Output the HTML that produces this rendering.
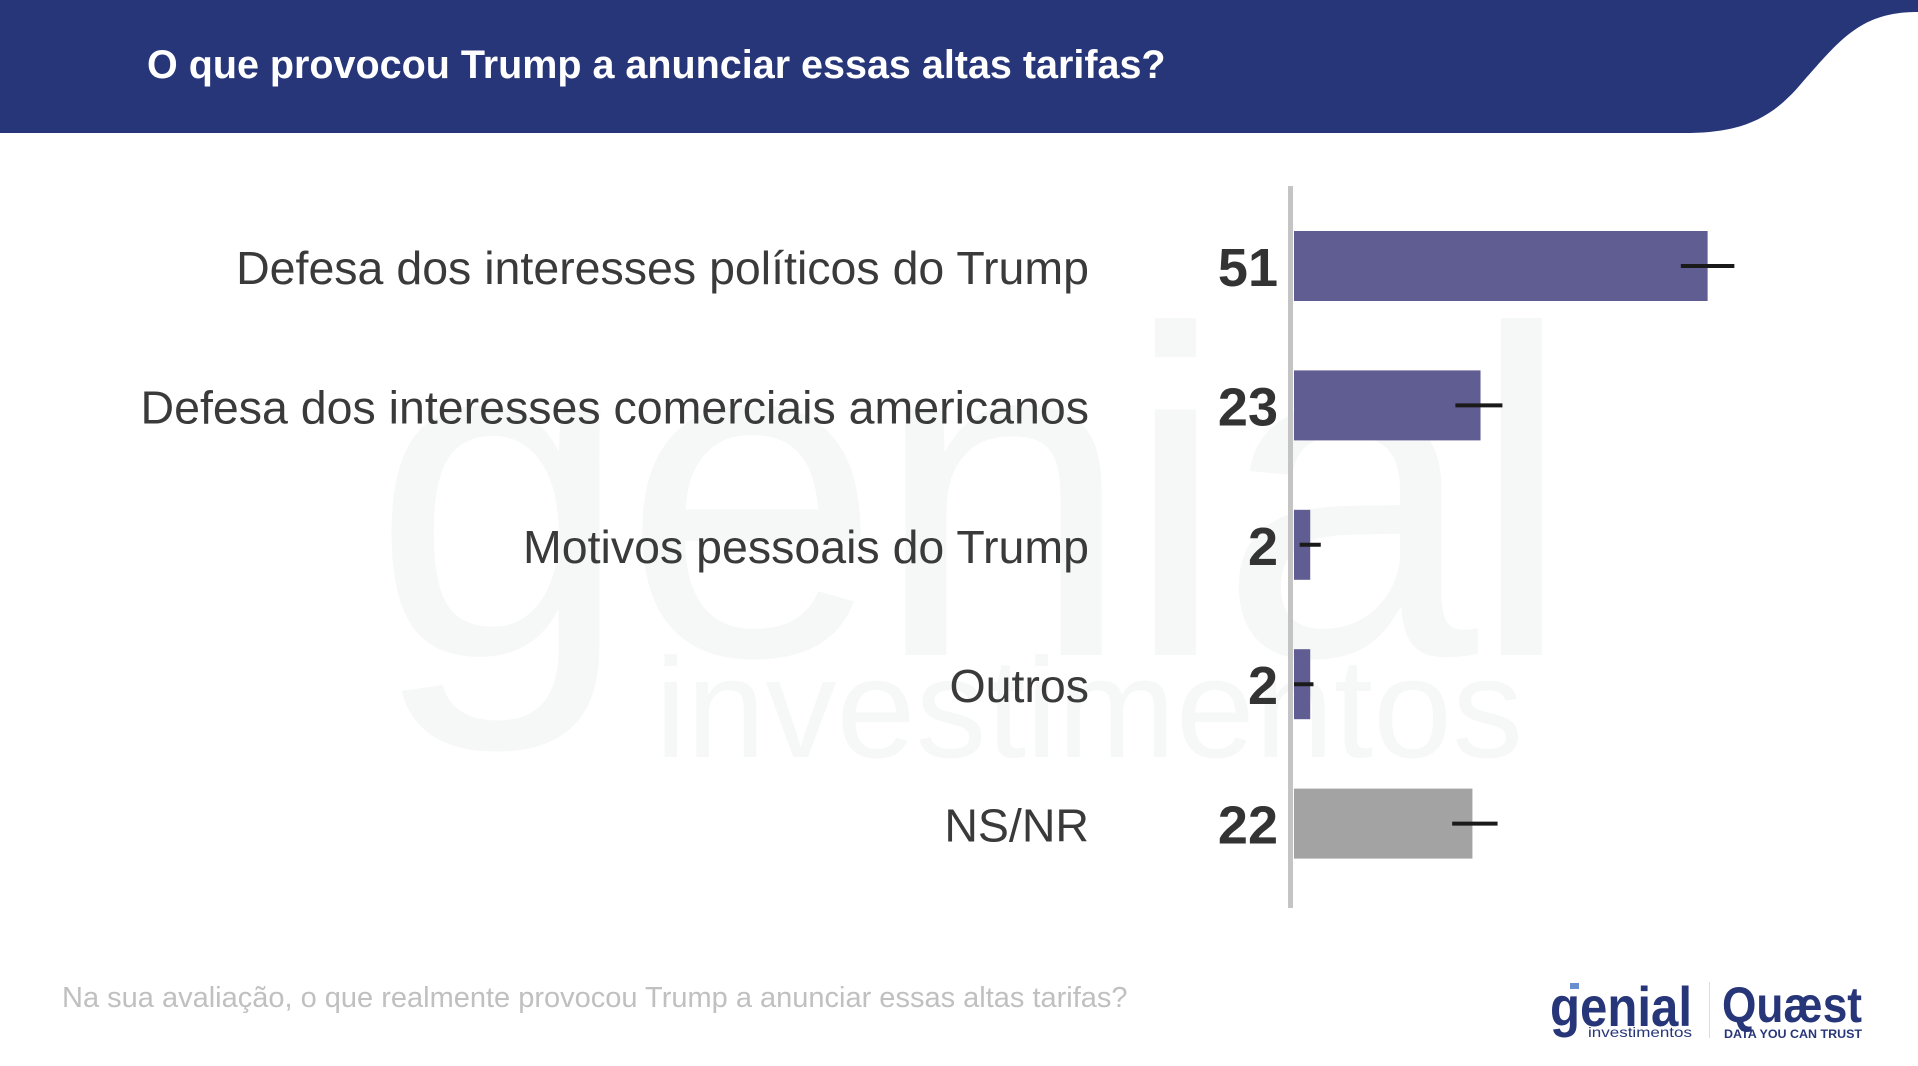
<!DOCTYPE html>
<html><head><meta charset="utf-8">
<style>
body{margin:0;width:1918px;height:1066px;overflow:hidden;background:#fff;font-family:"Liberation Sans",sans-serif;position:relative}
.wm{position:absolute;color:#f6f7f7;font-family:"Liberation Sans",sans-serif;white-space:nowrap}
</style></head><body>
<div class="wm" style="left:372px;top:262px;font-size:465px;letter-spacing:-8px;line-height:1">genial</div>
<div class="wm" style="left:655px;top:638px;font-size:142px;line-height:1">investimentos</div>
<svg width="1918" height="1066" style="position:absolute;left:0;top:0">
<path d="M0 0 H1918 V12 C1860 12 1840 40 1800 85 C1770 120 1740 132 1690 133 H0 Z" fill="#273579"/>
<text x="147" y="78" fill="#fff" font-size="39.5" font-weight="bold" font-family="Liberation Sans">O que provocou Trump a anunciar essas altas tarifas?</text>
<g id="bars"></g>
<text x="62" y="1007" fill="#c0c0c0" font-size="29" font-family="Liberation Sans">Na sua avaliação, o que realmente provocou Trump a anunciar essas altas tarifas?</text>
<g>
<text x="1550" y="1026" fill="#273579" font-size="56" font-weight="bold" font-family="Liberation Sans" textLength="142" lengthAdjust="spacingAndGlyphs">genial</text>
<rect x="1570" y="983" width="9" height="6" fill="#6a8fd0"/>
<text x="1588" y="1037" fill="#273579" font-size="14" font-family="Liberation Sans" textLength="104" lengthAdjust="spacingAndGlyphs">investimentos</text>
</g>
<rect x="1709" y="982" width="1" height="56" fill="#ddd"/>
<g>
<text x="1722" y="1022" fill="#273579" font-size="50" font-weight="bold" font-family="Liberation Sans" textLength="140" lengthAdjust="spacingAndGlyphs">Quæst</text>
<text x="1724" y="1038" fill="#273579" font-size="12" font-weight="bold" font-family="Liberation Sans" textLength="138" lengthAdjust="spacingAndGlyphs">DATA YOU CAN TRUST</text>
</g>
</svg>
<script>
const categories=["Defesa dos interesses políticos do Trump","Defesa dos interesses comerciais americanos","Motivos pessoais do Trump","Outros","NS/NR"];
const values=[51,23,2,2,22];
const errCenters=[51,22.8,2.0,1.2,22.3];
const errHalf=[3.3,2.9,1.3,1.2,2.8];
const colors=["#605d93","#605d93","#605d93","#605d93","#a3a3a3"];
const x0=1294, pxPer=8.11, yTop=231, step=139.4, bh=70;
const xs=v=>x0+v*pxPer;
const ys=i=>yTop+i*step;
const g=document.getElementById('bars');
const NS='http://www.w3.org/2000/svg';
function mk(t,a){const e=document.createElementNS(NS,t);for(const k in a)e.setAttribute(k,a[k]);return e;}
categories.forEach((c,i)=>{
  const y=ys(i);
  const r=mk('rect',{x:x0,y:y,width:xs(values[i])-x0,height:bh,fill:colors[i]});
  
  
  g.appendChild(r);
  const l=mk('line',{x1:xs(errCenters[i]-errHalf[i]),x2:xs(errCenters[i]+errHalf[i]),y1:y+35,y2:y+35,stroke:'#1a1a1a','stroke-width':4});
  
  
  g.appendChild(l);
  const v=mk('text',{x:1278,y:y+55,'text-anchor':'end','font-size':'54','font-weight':'bold',fill:'#333','font-family':'Liberation Sans'});
  v.textContent=values[i];
  
  
  g.appendChild(v);
  const t=mk('text',{x:1089,y:y+53,'text-anchor':'end','font-size':'46.5',fill:'#3a3a3a','font-family':'Liberation Sans'});
  t.textContent=c;
  
  
  g.appendChild(t);
});
const ax=mk('rect',{x:1288,y:186,width:5,height:722,fill:'#c4c4c4'});


g.appendChild(ax);
</script>
</body></html>
